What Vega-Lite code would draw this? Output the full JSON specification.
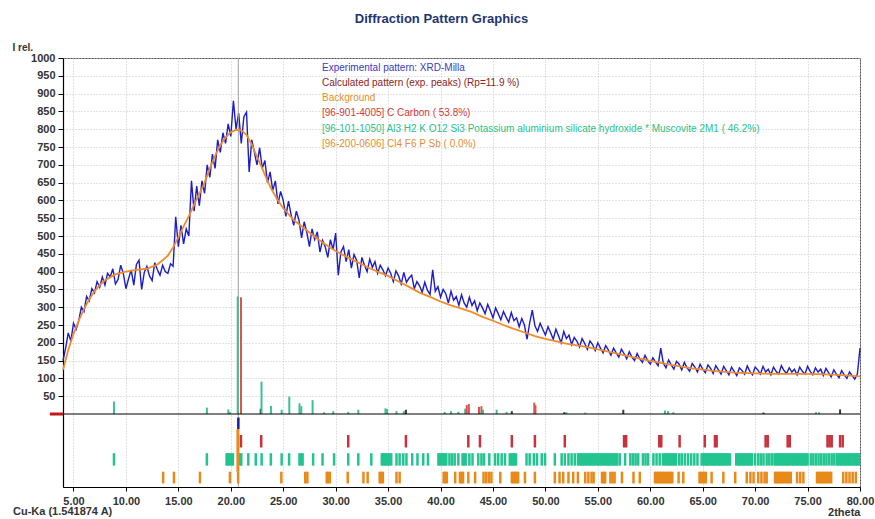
{
  "$schema": "https://vega.github.io/schema/vega-lite/v6.json",
  "width": 797,
  "height": 429,
  "autosize": "none",
  "padding": {"left": 63, "top": 58, "right": 15, "bottom": 32},
  "background": "white",
  "title": {"text": "Diffraction Pattern Graphics", "font": "Liberation Sans", "fontSize": 13, "fontWeight": "bold", "color": "#1f3570", "anchor": "middle", "dx": -20, "offset": 16},
  "config": {"view": {"stroke": "#555", "strokeWidth": 1}, "font": "Liberation Sans", "axis": {"labelOverlap": false}},
  "datasets": {
    "one": [{}],
    "exp": [
      {"t":4.0,"i":150},{"t":4.25,"i":185},{"t":4.5,"i":228},{"t":4.75,"i":205},{"t":5.0,"i":255},{"t":5.25,"i":238},{"t":5.5,"i":262},{"t":5.75,"i":300},
      {"t":6.0,"i":288},{"t":6.25,"i":330},{"t":6.5,"i":318},{"t":6.75,"i":352},{"t":7.0,"i":340},{"t":7.25,"i":372},{"t":7.5,"i":356},{"t":7.75,"i":385},
      {"t":8.0,"i":362},{"t":8.25,"i":395},{"t":8.5,"i":385},{"t":8.75,"i":408},{"t":9.0,"i":365},{"t":9.25,"i":378},{"t":9.5,"i":418},{"t":9.75,"i":395},
      {"t":10.0,"i":352},{"t":10.25,"i":380},{"t":10.5,"i":405},{"t":10.75,"i":362},{"t":11.0,"i":420},{"t":11.25,"i":432},{"t":11.5,"i":350},{"t":11.75,"i":398},
      {"t":12.0,"i":415},{"t":12.25,"i":388},{"t":12.5,"i":375},{"t":12.75,"i":425},{"t":13.0,"i":405},{"t":13.25,"i":390},{"t":13.5,"i":418},{"t":13.75,"i":400},
      {"t":14.0,"i":395},{"t":14.25,"i":422},{"t":14.5,"i":415},{"t":14.75,"i":554},{"t":15.0,"i":470},{"t":15.25,"i":530},{"t":15.5,"i":478},{"t":15.75,"i":520},
      {"t":16.0,"i":500},{"t":16.25,"i":655},{"t":16.5,"i":570},{"t":16.75,"i":640},{"t":17.0,"i":585},{"t":17.25,"i":655},{"t":17.5,"i":620},{"t":17.75,"i":700},
      {"t":18.0,"i":665},{"t":18.25,"i":730},{"t":18.5,"i":690},{"t":18.75,"i":770},{"t":19.0,"i":735},{"t":19.25,"i":790},{"t":19.5,"i":760},{"t":19.75,"i":815},
      {"t":20.0,"i":780},{"t":20.25,"i":880},{"t":20.5,"i":800},{"t":20.75,"i":845},{"t":21.0,"i":760},{"t":21.25,"i":835},{"t":21.5,"i":848},{"t":21.75,"i":680},
      {"t":22.0,"i":770},{"t":22.25,"i":735},{"t":22.5,"i":700},{"t":22.75,"i":748},{"t":23.0,"i":690},{"t":23.25,"i":712},{"t":23.5,"i":650},{"t":23.75,"i":680},
      {"t":24.0,"i":628},{"t":24.25,"i":655},{"t":24.5,"i":590},{"t":24.75,"i":625},{"t":25.0,"i":600},{"t":25.25,"i":555},{"t":25.5,"i":598},{"t":25.75,"i":560},
      {"t":26.0,"i":530},{"t":26.25,"i":570},{"t":26.5,"i":545},{"t":26.75,"i":495},{"t":27.0,"i":540},{"t":27.25,"i":510},{"t":27.5,"i":470},{"t":27.75,"i":520},
      {"t":28.0,"i":490},{"t":28.25,"i":512},{"t":28.5,"i":455},{"t":28.75,"i":488},{"t":29.0,"i":470},{"t":29.25,"i":440},{"t":29.5,"i":490},{"t":29.75,"i":462},
      {"t":30.0,"i":508},{"t":30.25,"i":390},{"t":30.5,"i":455},{"t":30.75,"i":470},{"t":31.0,"i":428},{"t":31.25,"i":462},{"t":31.5,"i":410},{"t":31.75,"i":448},
      {"t":32.0,"i":432},{"t":32.25,"i":382},{"t":32.5,"i":440},{"t":32.75,"i":418},{"t":33.0,"i":400},{"t":33.25,"i":435},{"t":33.5,"i":412},{"t":33.75,"i":428},
      {"t":34.0,"i":395},{"t":34.25,"i":418},{"t":34.5,"i":405},{"t":34.75,"i":388},{"t":35.0,"i":410},{"t":35.25,"i":395},{"t":35.5,"i":372},{"t":35.75,"i":402},
      {"t":36.0,"i":388},{"t":36.25,"i":365},{"t":36.5,"i":398},{"t":36.75,"i":370},{"t":37.0,"i":382},{"t":37.25,"i":390},{"t":37.5,"i":352},{"t":37.75,"i":372},
      {"t":38.0,"i":360},{"t":38.25,"i":342},{"t":38.5,"i":370},{"t":38.75,"i":348},{"t":39.0,"i":336},{"t":39.25,"i":405},{"t":39.5,"i":345},{"t":39.75,"i":358},
      {"t":40.0,"i":328},{"t":40.25,"i":350},{"t":40.5,"i":338},{"t":40.75,"i":312},{"t":41.0,"i":345},{"t":41.25,"i":320},{"t":41.5,"i":330},{"t":41.75,"i":305},
      {"t":42.0,"i":335},{"t":42.25,"i":312},{"t":42.5,"i":300},{"t":42.75,"i":328},{"t":43.0,"i":305},{"t":43.25,"i":318},{"t":43.5,"i":290},{"t":43.75,"i":312},
      {"t":44.0,"i":298},{"t":44.25,"i":282},{"t":44.5,"i":308},{"t":44.75,"i":290},{"t":45.0,"i":270},{"t":45.25,"i":298},{"t":45.5,"i":282},{"t":45.75,"i":265},
      {"t":46.0,"i":288},{"t":46.25,"i":272},{"t":46.5,"i":258},{"t":46.75,"i":285},{"t":47.0,"i":262},{"t":47.25,"i":270},{"t":47.5,"i":245},{"t":47.75,"i":268},
      {"t":48.0,"i":250},{"t":48.25,"i":210},{"t":48.5,"i":255},{"t":48.75,"i":292},{"t":49.0,"i":248},{"t":49.25,"i":232},{"t":49.5,"i":255},{"t":49.75,"i":238},
      {"t":50.0,"i":222},{"t":50.25,"i":245},{"t":50.5,"i":228},{"t":50.75,"i":210},{"t":51.0,"i":238},{"t":51.25,"i":220},{"t":51.5,"i":200},{"t":51.75,"i":232},
      {"t":52.0,"i":212},{"t":52.25,"i":222},{"t":52.5,"i":195},{"t":52.75,"i":215},{"t":53.0,"i":205},{"t":53.25,"i":188},{"t":53.5,"i":212},{"t":53.75,"i":198},
      {"t":54.0,"i":182},{"t":54.25,"i":205},{"t":54.5,"i":195},{"t":54.75,"i":178},{"t":55.0,"i":200},{"t":55.25,"i":185},{"t":55.5,"i":172},{"t":55.75,"i":192},
      {"t":56.0,"i":180},{"t":56.25,"i":165},{"t":56.5,"i":185},{"t":56.75,"i":172},{"t":57.0,"i":160},{"t":57.25,"i":182},{"t":57.5,"i":170},{"t":57.75,"i":155},
      {"t":58.0,"i":175},{"t":58.25,"i":160},{"t":58.5,"i":150},{"t":58.75,"i":170},{"t":59.0,"i":155},{"t":59.25,"i":145},{"t":59.5,"i":165},{"t":59.75,"i":150},
      {"t":60.0,"i":140},{"t":60.25,"i":158},{"t":60.5,"i":146},{"t":60.75,"i":136},{"t":61.0,"i":185},{"t":61.25,"i":142},{"t":61.5,"i":130},{"t":61.75,"i":152},
      {"t":62.0,"i":138},{"t":62.25,"i":126},{"t":62.5,"i":148},{"t":62.75,"i":140},{"t":63.0,"i":124},{"t":63.25,"i":145},{"t":63.5,"i":130},{"t":63.75,"i":120},
      {"t":64.0,"i":142},{"t":64.25,"i":132},{"t":64.5,"i":118},{"t":64.75,"i":140},{"t":65.0,"i":126},{"t":65.25,"i":116},{"t":65.5,"i":138},{"t":65.75,"i":128},
      {"t":66.0,"i":114},{"t":66.25,"i":136},{"t":66.5,"i":124},{"t":66.75,"i":112},{"t":67.0,"i":134},{"t":67.25,"i":122},{"t":67.5,"i":110},{"t":67.75,"i":132},
      {"t":68.0,"i":120},{"t":68.25,"i":108},{"t":68.5,"i":130},{"t":68.75,"i":122},{"t":69.0,"i":112},{"t":69.25,"i":135},{"t":69.5,"i":120},{"t":69.75,"i":110},
      {"t":70.0,"i":132},{"t":70.25,"i":124},{"t":70.5,"i":112},{"t":70.75,"i":134},{"t":71.0,"i":118},{"t":71.25,"i":126},{"t":71.5,"i":110},{"t":71.75,"i":132},
      {"t":72.0,"i":120},{"t":72.25,"i":112},{"t":72.5,"i":136},{"t":72.75,"i":122},{"t":73.0,"i":114},{"t":73.25,"i":130},{"t":73.5,"i":118},{"t":73.75,"i":126},
      {"t":74.0,"i":110},{"t":74.25,"i":132},{"t":74.5,"i":120},{"t":74.75,"i":112},{"t":75.0,"i":134},{"t":75.25,"i":120},{"t":75.5,"i":110},{"t":75.75,"i":130},
      {"t":76.0,"i":118},{"t":76.25,"i":126},{"t":76.5,"i":108},{"t":76.75,"i":128},{"t":77.0,"i":116},{"t":77.25,"i":104},{"t":77.5,"i":124},{"t":77.75,"i":112},
      {"t":78.0,"i":102},{"t":78.25,"i":122},{"t":78.5,"i":110},{"t":78.75,"i":100},{"t":79.0,"i":118},{"t":79.25,"i":108},{"t":79.5,"i":98},{"t":79.75,"i":112},
      {"t":80.0,"i":185}
    ],
    "bg": [
      {"t":4.0,"i":124},{"t":4.5,"i":180},{"t":5.0,"i":225},{"t":5.5,"i":262},{"t":6.0,"i":295},{"t":6.5,"i":322},{"t":7.0,"i":345},{"t":7.5,"i":362},
      {"t":8.0,"i":376},{"t":9.0,"i":392},{"t":10.0,"i":400},{"t":11.0,"i":405},{"t":12.0,"i":408},{"t":13.0,"i":420},{"t":13.5,"i":432},{"t":14.0,"i":445},
      {"t":14.5,"i":468},{"t":15.0,"i":496},{"t":15.5,"i":527},{"t":16.0,"i":556},{"t":16.5,"i":588},{"t":17.0,"i":618},{"t":17.5,"i":650},{"t":18.0,"i":690},
      {"t":18.5,"i":725},{"t":19.0,"i":755},{"t":19.5,"i":777},{"t":20.0,"i":792},{"t":20.5,"i":798},{"t":21.0,"i":797},{"t":21.5,"i":784},{"t":22.0,"i":757},
      {"t":22.5,"i":722},{"t":23.0,"i":690},{"t":23.5,"i":655},{"t":24.0,"i":625},{"t":24.5,"i":600},{"t":25.0,"i":578},{"t":26.0,"i":545},{"t":27.0,"i":522},
      {"t":28.0,"i":498},{"t":29.0,"i":477},{"t":30.0,"i":458},{"t":31.0,"i":442},{"t":32.0,"i":428},{"t":33.0,"i":413},{"t":34.0,"i":400},{"t":35.0,"i":388},
      {"t":36.0,"i":372},{"t":37.0,"i":357},{"t":38.0,"i":341},{"t":39.0,"i":329},{"t":40.0,"i":316},{"t":41.0,"i":305},{"t":42.0,"i":296},{"t":43.0,"i":286},
      {"t":44.0,"i":273},{"t":45.0,"i":262},{"t":46.0,"i":250},{"t":47.0,"i":239},{"t":48.0,"i":229},{"t":49.0,"i":219},{"t":50.0,"i":211},{"t":52.0,"i":198},
      {"t":54.0,"i":188},{"t":56.0,"i":175},{"t":58.0,"i":162},{"t":60.0,"i":149},{"t":62.0,"i":138},{"t":64.0,"i":128},{"t":66.0,"i":121},{"t":68.0,"i":116},
      {"t":70.0,"i":114},{"t":72.0,"i":113},{"t":74.0,"i":113},{"t":76.0,"i":112},{"t":78.0,"i":110},{"t":80.0,"i":106}
    ],
    "peaks": [
      {"t":8.86,"i":35,"p":"Muscovite"},{"t":17.72,"i":18,"p":"Muscovite"},{"t":19.76,"i":13,"p":"Muscovite"},{"t":19.9,"i":6,"p":"Muscovite"},
      {"t":20.66,"i":330,"p":"Muscovite"},{"t":20.97,"i":328,"p":"Carbon"},{"t":22.85,"i":15,"p":"Calculated"},{"t":22.93,"i":91,"p":"Muscovite"},
      {"t":23.83,"i":23,"p":"Muscovite"},{"t":24.85,"i":12,"p":"Muscovite"},{"t":25.58,"i":49,"p":"Muscovite"},{"t":26.55,"i":30,"p":"Muscovite"},
      {"t":26.72,"i":22,"p":"Muscovite"},{"t":27.8,"i":39,"p":"Muscovite"},{"t":28.9,"i":5,"p":"Muscovite"},{"t":29.77,"i":8,"p":"Muscovite"},
      {"t":31.2,"i":6,"p":"Muscovite"},{"t":32.16,"i":12,"p":"Muscovite"},{"t":34.75,"i":16,"p":"Muscovite"},{"t":34.9,"i":14,"p":"Muscovite"},
      {"t":35.8,"i":8,"p":"Muscovite"},{"t":36.5,"i":8,"p":"Muscovite"},{"t":36.7,"i":12,"p":"Calculated"},{"t":40.4,"i":6,"p":"Muscovite"},
      {"t":41.0,"i":8,"p":"Muscovite"},{"t":41.7,"i":6,"p":"Muscovite"},{"t":42.35,"i":15,"p":"Muscovite"},{"t":42.5,"i":25,"p":"Carbon"},
      {"t":42.7,"i":28,"p":"Carbon"},{"t":43.67,"i":20,"p":"Carbon"},{"t":43.9,"i":22,"p":"Carbon"},{"t":44.05,"i":12,"p":"Muscovite"},
      {"t":45.35,"i":12,"p":"Muscovite"},{"t":46.3,"i":6,"p":"Muscovite"},{"t":46.8,"i":8,"p":"Calculated"},{"t":48.94,"i":32,"p":"Carbon"},
      {"t":49.05,"i":25,"p":"Carbon"},{"t":51.8,"i":5,"p":"Calculated"},{"t":52.0,"i":5,"p":"Muscovite"},{"t":53.8,"i":4,"p":"Muscovite"},
      {"t":57.43,"i":12,"p":"Calculated"},{"t":61.4,"i":10,"p":"Muscovite"},{"t":61.7,"i":8,"p":"Muscovite"},{"t":62.2,"i":5,"p":"Muscovite"},
      {"t":70.8,"i":4,"p":"Calculated"},{"t":75.8,"i":5,"p":"Muscovite"},{"t":76.1,"i":5,"p":"Muscovite"},{"t":78.1,"i":13,"p":"Calculated"}
    ],
    "expTicks": [{"t":20.72}],
    "carbonTicks": [
      {"t":20.97},{"t":22.9},{"t":31.2},{"t":36.7},{"t":42.65},{"t":43.76},{"t":46.8},{"t":49.0},{"t":51.85},{"t":57.5},{"t":57.7},{"t":60.86},{"t":61.05},
      {"t":62.8},{"t":65.2},{"t":66.17},{"t":66.33},{"t":71.0},{"t":71.2},{"t":73.1},{"t":73.3},{"t":76.9},{"t":77.1},{"t":77.3},{"t":78.1},{"t":78.35}
    ],
    "muscoviteTicks": [
      {"t":8.86},{"t":17.72},{"t":19.6},{"t":19.75},{"t":19.9},{"t":20.05},{"t":20.2},{"t":20.9},{"t":21.0},{"t":21.67},{"t":22.38},{"t":22.94},{"t":23.82},
      {"t":24.85},{"t":25.56},{"t":26.55},{"t":26.7},{"t":26.85},{"t":27.85},{"t":28.75},{"t":29.85},{"t":31.2},{"t":32.16},{"t":33.4},{"t":34.4},{"t":34.55},
      {"t":34.7},{"t":34.85},{"t":35.0},{"t":35.15},{"t":35.3},{"t":35.8},{"t":36.1},{"t":36.45},{"t":36.75},{"t":37.3},{"t":37.8},{"t":38.35},{"t":38.8},
      {"t":39.8},{"t":39.95},{"t":40.1},{"t":40.25},{"t":40.4},{"t":40.55},{"t":40.85},{"t":41.1},{"t":41.35},{"t":41.7},{"t":42.1},{"t":42.25},{"t":42.4},
      {"t":42.75},{"t":43.05},{"t":43.6},{"t":43.9},{"t":44.15},{"t":44.65},{"t":45.2},{"t":45.5},{"t":45.83},{"t":46.15},{"t":46.6},{"t":46.75},{"t":46.9},
      {"t":47.05},{"t":47.2},{"t":48.2},{"t":48.5},{"t":48.9},{"t":49.2},{"t":49.65},{"t":49.97},{"t":50.9},{"t":51.55},{"t":51.85},{"t":52.2},{"t":52.5},
      {"t":52.8},{"t":53.1},{"t":53.25},{"t":53.4},{"t":53.55},{"t":53.7},{"t":53.85},{"t":54.0},{"t":54.15},{"t":54.3},{"t":54.45},{"t":54.6},{"t":54.75},
      {"t":54.9},{"t":55.05},{"t":55.2},{"t":55.35},{"t":55.5},{"t":55.65},{"t":55.8},{"t":55.95},{"t":56.1},{"t":56.25},{"t":56.4},{"t":56.55},{"t":56.7},
      {"t":56.85},{"t":57.1},{"t":57.6},{"t":58.1},{"t":58.35},{"t":58.6},{"t":58.85},{"t":59.3},{"t":59.55},{"t":59.8},{"t":60.3},{"t":60.6},{"t":60.9},
      {"t":61.2},{"t":61.4},{"t":61.55},{"t":61.7},{"t":61.85},{"t":62.0},{"t":62.15},{"t":62.3},{"t":62.45},{"t":62.75},{"t":63.0},{"t":63.3},{"t":63.6},
      {"t":63.9},{"t":64.2},{"t":64.5},{"t":64.9},{"t":65.05},{"t":65.2},{"t":65.35},{"t":65.5},{"t":65.65},{"t":65.8},{"t":65.95},{"t":66.1},{"t":66.25},
      {"t":66.4},{"t":66.55},{"t":66.7},{"t":66.85},{"t":67.0},{"t":67.15},{"t":67.3},{"t":67.45},{"t":67.6},{"t":68.2},{"t":68.35},{"t":68.5},{"t":68.65},
      {"t":68.8},{"t":68.95},{"t":69.1},{"t":69.25},{"t":69.4},{"t":69.55},{"t":69.7},{"t":70.0},{"t":70.3},{"t":70.55},{"t":70.8},{"t":71.1},{"t":71.35},
      {"t":71.6},{"t":71.85},{"t":72.0},{"t":72.15},{"t":72.3},{"t":72.45},{"t":72.6},{"t":72.75},{"t":72.9},{"t":73.05},{"t":73.2},{"t":73.35},{"t":73.5},
      {"t":73.65},{"t":73.8},{"t":73.95},{"t":74.1},{"t":74.25},{"t":74.4},{"t":74.55},{"t":74.7},{"t":74.85},{"t":75.0},{"t":75.3},{"t":75.55},{"t":75.8},
      {"t":76.05},{"t":76.3},{"t":76.55},{"t":76.8},{"t":77.05},{"t":77.3},{"t":77.55},{"t":77.8},{"t":77.95},{"t":78.1},{"t":78.25},{"t":78.4},{"t":78.55},
      {"t":78.7},{"t":78.85},{"t":79.0},{"t":79.15},{"t":79.3},{"t":79.45},{"t":79.6},{"t":79.75},{"t":79.9}
    ],
    "sbTicks": [
      {"t":13.55},{"t":14.58},{"t":17.06},{"t":19.92},{"t":20.7},{"t":24.82},{"t":27.1},{"t":27.3},{"t":29.15},{"t":29.3},{"t":29.45},{"t":31.15},{"t":32.65},
      {"t":33.05},{"t":34.2},{"t":34.35},{"t":34.5},{"t":35.8},{"t":36.1},{"t":40.3},{"t":40.45},{"t":40.6},{"t":41.4},{"t":41.85},{"t":42.0},{"t":42.15},
      {"t":42.65},{"t":43.3},{"t":44.1},{"t":44.35},{"t":44.6},{"t":44.85},{"t":45.7},{"t":46.8},{"t":46.95},{"t":47.1},{"t":47.25},{"t":47.4},{"t":48.05},
      {"t":49.0},{"t":50.9},{"t":51.35},{"t":51.7},{"t":52.2},{"t":52.65},{"t":53.1},{"t":53.8},{"t":54.1},{"t":54.4},{"t":54.6},{"t":55.4},{"t":55.55},
      {"t":55.7},{"t":56.2},{"t":56.4},{"t":56.6},{"t":57.3},{"t":58.4},{"t":59.0},{"t":60.45},{"t":60.6},{"t":60.75},{"t":60.9},{"t":61.05},{"t":61.2},
      {"t":61.35},{"t":61.5},{"t":61.65},{"t":61.8},{"t":61.95},{"t":62.1},{"t":62.7},{"t":63.15},{"t":64.7},{"t":64.85},{"t":65.0},{"t":65.15},{"t":65.3},
      {"t":65.85},{"t":66.97},{"t":68.1},{"t":69.2},{"t":69.55},{"t":69.85},{"t":70.3},{"t":70.6},{"t":70.9},{"t":71.1},{"t":71.9},{"t":72.05},{"t":72.2},
      {"t":72.35},{"t":72.5},{"t":72.65},{"t":72.8},{"t":72.95},{"t":73.1},{"t":73.25},{"t":73.4},{"t":74.0},{"t":74.3},{"t":74.6},{"t":75.9},{"t":76.05},
      {"t":76.2},{"t":76.35},{"t":76.5},{"t":76.65},{"t":76.8},{"t":76.95},{"t":77.1},{"t":77.25},{"t":78.4},{"t":78.7},{"t":79.0},{"t":79.3},{"t":79.6}
    ]
  },
  "layer": [
    {
      "data": {"name": "exp"},
      "mark": {"type": "line", "color": "#1c1cc8", "strokeWidth": 1.4},
      "encoding": {
        "x": {"field": "t", "type": "quantitative", "scale": {"domain": [4, 80], "nice": false, "zero": false},
          "axis": {"values": [5,10,15,20,25,30,35,40,45,50,55,60,65,70,75,80], "tickCount": 30, "format": ".2f", "title": "2theta",
            "titleX": 797, "titleY": 25, "titleAlign": "right", "titleBaseline": "middle", "titleFont": "Liberation Sans", "titleFontSize": 11, "titleFontWeight": "bold", "titleColor": "#333",
            "labelFont": "Liberation Sans", "labelFontSize": 11, "labelFontWeight": "bold", "labelColor": "#333", "labelPadding": 4, "labelFlush": false, "labelOverlap": false,
            "tickSize": 4, "tickColor": "#000", "domainColor": "#000", "domainWidth": 1.2,
            "grid": true, "gridColor": "#c4c4c4", "gridDash": [1, 2]}},
        "y": {"field": "i", "type": "quantitative", "scale": {"domain": [-205, 1000], "nice": false, "zero": false},
          "axis": {"values": [50,100,150,200,250,300,350,400,450,500,550,600,650,700,750,800,850,900,950,1000], "tickCount": 40, "format": "d", "title": "I rel.",
            "titleAngle": 0, "titleX": -51, "titleY": -11, "titleAlign": "left", "titleBaseline": "middle", "titleFont": "Liberation Sans", "titleFontSize": 10, "titleFontWeight": "bold", "titleColor": "#333",
            "labelFont": "Liberation Sans", "labelFontSize": 11, "labelFontWeight": "bold", "labelColor": "#333", "labelPadding": 3, "labelOverlap": false, "labelFlush": false,
            "tickSize": 5, "tickColor": "#000", "domainColor": "#000", "domainWidth": 1.2,
            "grid": true, "gridColor": "#c4c4c4", "gridDash": [1, 2]}}
      }
    },
    {
      "data": {"name": "one"},
      "mark": {"type": "rule", "color": "#a0a0a0", "strokeWidth": 1},
      "encoding": {"x": {"datum": 20.72}}
    },
    {
      "data": {"name": "expTicks"},
      "mark": {"type": "rule", "color": "#1a1aa8", "strokeWidth": 2.5},
      "encoding": {"x": {"field": "t", "type": "quantitative"}, "y": {"datum": -10}, "y2": {"datum": -42}}
    },
    {
      "data": {"name": "carbonTicks"},
      "mark": {"type": "rule", "color": "#c8323c", "strokeWidth": 2.5},
      "encoding": {"x": {"field": "t", "type": "quantitative"}, "y": {"datum": -59}, "y2": {"datum": -94}}
    },
    {
      "data": {"name": "muscoviteTicks"},
      "mark": {"type": "rule", "color": "#22c48f", "strokeWidth": 2.5},
      "encoding": {"x": {"field": "t", "type": "quantitative"}, "y": {"datum": -110}, "y2": {"datum": -145}}
    },
    {
      "data": {"name": "sbTicks"},
      "mark": {"type": "rule", "color": "#e88a1a", "strokeWidth": 2.5},
      "encoding": {"x": {"field": "t", "type": "quantitative"}, "y": {"datum": -162}, "y2": {"datum": -195}}
    },
    {
      "data": {"name": "one"},
      "mark": {"type": "rule", "color": "#e88a1a", "strokeWidth": 3},
      "encoding": {"x": {"datum": 20.68}, "y": {"datum": -42}, "y2": {"datum": -162}}
    },
    {
      "data": {"name": "peaks"},
      "mark": {"type": "rule", "strokeWidth": 2},
      "encoding": {
        "x": {"field": "t", "type": "quantitative"},
        "y": {"field": "i", "type": "quantitative"},
        "y2": {"datum": 0},
        "color": {"field": "p", "type": "nominal", "scale": {"domain": ["Muscovite", "Carbon", "Calculated"], "range": ["#3cc096", "#e05050", "#3a3a3a"]}, "legend": null}
      }
    },
    {
      "data": {"name": "one"},
      "mark": {"type": "rule", "color": "#000", "strokeWidth": 1.2},
      "encoding": {"y": {"datum": 0}}
    },
    {
      "data": {"name": "one"},
      "mark": {"type": "rule", "color": "#c01818", "strokeWidth": 3},
      "encoding": {"x": {"datum": 2.75}, "x2": {"datum": 4}, "y": {"datum": 0}}
    },
    {
      "data": {"name": "bg"},
      "mark": {"type": "line", "color": "#f08c28", "strokeWidth": 1.8},
      "encoding": {"x": {"field": "t", "type": "quantitative"}, "y": {"field": "i", "type": "quantitative"}}
    },
    {
      "data": {"name": "one"},
      "mark": {"type": "text", "text": "Experimental pattern: XRD-Milla", "align": "left", "baseline": "middle", "font": "Liberation Sans", "fontSize": 10, "color": "#3b3bbd"},
      "encoding": {"x": {"datum": 28.7}, "y": {"datum": 971}}
    },
    {
      "data": {"name": "one"},
      "mark": {"type": "text", "text": "Calculated pattern (exp. peaks) (Rp=11.9 %)", "align": "left", "baseline": "middle", "font": "Liberation Sans", "fontSize": 10, "color": "#8b2323"},
      "encoding": {"x": {"datum": 28.7}, "y": {"datum": 929}}
    },
    {
      "data": {"name": "one"},
      "mark": {"type": "text", "text": "Background", "align": "left", "baseline": "middle", "font": "Liberation Sans", "fontSize": 10, "color": "#e0902a"},
      "encoding": {"x": {"datum": 28.7}, "y": {"datum": 887}}
    },
    {
      "data": {"name": "one"},
      "mark": {"type": "text", "text": "[96-901-4005] C  Carbon ( 53.8%)", "align": "left", "baseline": "middle", "font": "Liberation Sans", "fontSize": 10, "color": "#d03a3a"},
      "encoding": {"x": {"datum": 28.7}, "y": {"datum": 845}}
    },
    {
      "data": {"name": "one"},
      "mark": {"type": "text", "text": "[96-101-1050] Al3 H2 K O12 Si3 Potassium aluminium silicate hydroxide * Muscovite 2M1 ( 46.2%)", "align": "left", "baseline": "middle", "font": "Liberation Sans", "fontSize": 10, "color": "#2cc08a"},
      "encoding": {"x": {"datum": 28.7}, "y": {"datum": 801}}
    },
    {
      "data": {"name": "one"},
      "mark": {"type": "text", "text": "[96-200-0606] Cl4 F6 P Sb  (  0.0%)", "align": "left", "baseline": "middle", "font": "Liberation Sans", "fontSize": 10, "color": "#e09030"},
      "encoding": {"x": {"datum": 28.7}, "y": {"datum": 758}}
    },
    {
      "data": {"name": "one"},
      "mark": {"type": "text", "text": "Cu-Ka (1.541874 A)", "align": "left", "baseline": "middle", "dx": -50, "dy": 25, "font": "Liberation Sans", "fontSize": 11, "fontWeight": "bold", "color": "#333"},
      "encoding": {"x": {"datum": 4}, "y": {"datum": -205}}
    }
  ]
}
